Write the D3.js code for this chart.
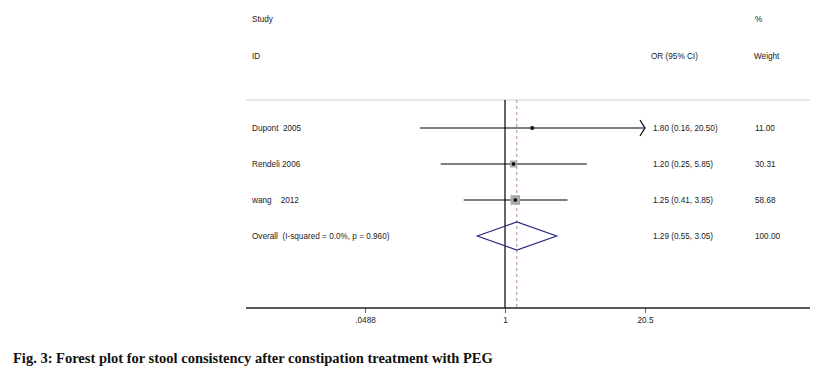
<!DOCTYPE html>
<html>
<head>
<meta charset="utf-8">
<script src="https://cdn.jsdelivr.net/npm/d3@7"></script>
<style>
  body { margin: 0; background: #fff; }
  svg { display: block; }
</style>
</head>
<body>
<svg id="chart"></svg>
<script>
// study data
const studies = ["Dupont  2005", "Rendeli 2006", "wang    2012"];
const orVals = [1.80, 1.20, 1.25];
const ciLow = [0.16, 0.25, 0.41];
const ciHigh = [20.50, 5.85, 3.85];
const weights = [11.00, 30.31, 58.68];
const overall = { label: "Overall  (I-squared = 0.0%, p = 0.960)", or: 1.29, lo: 0.55, hi: 3.05, weight: 100.00 };
const tickVals = [0.0488, 1, 20.5];
const tickLabels = [".0488", "1", "20.5"];
const clipMax = 20.5; // axis cut-off -> arrow

const width = 817, height = 376;
const svg = d3.select("#chart").attr("width", width).attr("height", height);

const font = "'Liberation Sans', Arial, sans-serif";
const txtCol = "#222";
const fs = "8.2px";

// log scale, .0488 and 20.5 sit symmetric round 1
const x = d3.scaleLog().domain([0.0488, 20.5]).range([365, 645]);

const rows = studies.map((s, i) => i);
const y = d3.scalePoint().domain(d3.range(4)).range([128, 236]);

const axisY = 308, topY = 100;
const left = 246, right = 810;

// header
const hdr = svg.append("g").style("font-family", font).style("font-size", fs).attr("fill", txtCol);
hdr.append("text").attr("x", 252).attr("y", 22).text("Study");
hdr.append("text").attr("x", 252).attr("y", 59).text("ID");
hdr.append("text").attr("x", 651).attr("y", 59).text("OR (95% CI)");
hdr.append("text").attr("x", 755).attr("y", 22).text("%");
hdr.append("text").attr("x", 754).attr("y", 59).text("Weight");

// gray separator
svg.append("line").attr("x1", left).attr("x2", right).attr("y1", topY).attr("y2", topY)
  .attr("stroke", "#d0d0d0").attr("stroke-width", 1);

// null line
svg.append("line").attr("x1", x(1)).attr("x2", x(1)).attr("y1", topY).attr("y2", axisY)
  .attr("stroke", "#000").attr("stroke-width", 1.2);

// overall dashed line
svg.append("line").attr("x1", x(overall.or)).attr("x2", x(overall.or)).attr("y1", topY).attr("y2", axisY)
  .attr("stroke", "#a06868").attr("stroke-width", 0.8).attr("stroke-dasharray", "3,3");

// x axis
const axis = d3.axisBottom(x).tickValues(tickVals).tickFormat((d, i) => tickLabels[i]).tickSize(5).tickSizeOuter(0);
const ax = svg.append("g").attr("transform", `translate(0,${axisY})`).call(axis);
ax.select(".domain").remove();
ax.append("line").attr("x1", left).attr("x2", right).attr("stroke", "#222").attr("stroke-width", 1.4);
ax.selectAll(".tick line").attr("stroke", "#666");
ax.selectAll(".tick text").attr("fill", txtCol).style("font-family", font).style("font-size", fs).attr("dy", "0.9em");

// study rows
const g = svg.append("g");
rows.forEach(i => {
  const yy = y(i);
  const hi = Math.min(ciHigh[i], clipMax);
  g.append("line").attr("x1", x(ciLow[i])).attr("x2", x(hi)).attr("y1", yy).attr("y2", yy)
    .attr("stroke", "#000").attr("stroke-width", 1.2);
  if (ciHigh[i] >= clipMax) {
    g.append("path")
      .attr("d", `M${x(hi) - 5},${yy - 8} L${x(hi)},${yy} L${x(hi) - 5},${yy + 8}`)
      .attr("fill", "none").attr("stroke", "#000").attr("stroke-width", 1.2);
  }
  const s = 1.25 * Math.sqrt(weights[i]);
  g.append("rect").attr("x", x(orVals[i]) - s / 2).attr("y", yy - s / 2)
    .attr("width", s).attr("height", s).attr("fill", "#a8a8a8");
  g.append("circle").attr("cx", x(orVals[i])).attr("cy", yy).attr("r", 1.8).attr("fill", "#000");

  const t = g.append("g").style("font-family", font).style("font-size", fs).attr("fill", txtCol);
  t.append("text").attr("x", 252).attr("y", yy + 3).attr("xml:space", "preserve").text(studies[i]);
  t.append("text").attr("x", 653).attr("y", yy + 3)
    .text(`${orVals[i].toFixed(2)} (${ciLow[i].toFixed(2)}, ${ciHigh[i].toFixed(2)})`);
  t.append("text").attr("x", 755).attr("y", yy + 3).text(weights[i].toFixed(2));
});

// overall diamond
const oy = y(3);
g.append("path")
  .attr("d", `M${x(overall.lo)},${oy} L${x(overall.or)},${oy - 14} L${x(overall.hi)},${oy} L${x(overall.or)},${oy + 14} Z`)
  .attr("fill", "none").attr("stroke", "#2b2b80").attr("stroke-width", 1.2);
const ot = g.append("g").style("font-family", font).style("font-size", fs).attr("fill", txtCol);
ot.append("text").attr("x", 252).attr("y", oy + 3).attr("xml:space", "preserve").text(overall.label);
ot.append("text").attr("x", 653).attr("y", oy + 3)
  .text(`${overall.or.toFixed(2)} (${overall.lo.toFixed(2)}, ${overall.hi.toFixed(2)})`);
ot.append("text").attr("x", 755).attr("y", oy + 3).text(overall.weight.toFixed(2));

// caption
svg.append("text").attr("x", 13).attr("y", 363)
  .style("font-family", "'Liberation Serif', 'Times New Roman', serif")
  .style("font-size", "14.5px").style("font-weight", "bold").attr("fill", "#111")
  .text("Fig. 3: Forest plot for stool consistency after constipation treatment with PEG");
</script>
</body>
</html>
